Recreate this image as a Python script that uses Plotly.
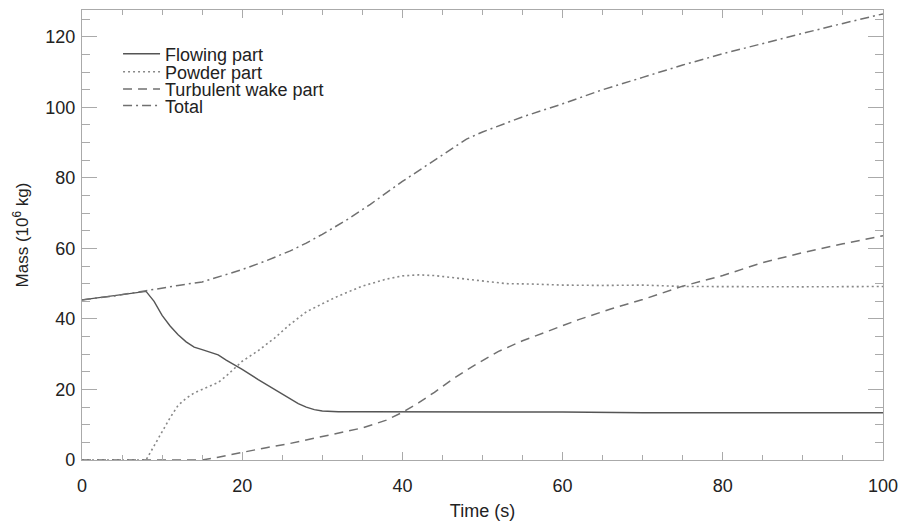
import plotly.graph_objects as go

# ---- data ----
flow_t = [0, 4, 8, 9, 10, 11, 12, 13, 14, 15, 16, 17, 18, 20, 22, 24, 26, 27, 28, 29, 30, 32, 35, 40, 50, 60, 70, 80, 100]
flow_v = [45.4, 46.5, 47.8, 45.0, 41.0, 38.0, 35.5, 33.5, 32.0, 31.3, 30.6, 29.8, 28.3, 25.7, 22.8, 20.0, 17.3, 16.0, 15.0, 14.3, 13.9, 13.7, 13.7, 13.7, 13.7, 13.6, 13.4, 13.4, 13.4]

powder_t = [0, 8, 9, 10, 11, 12, 13, 14, 15, 16, 17, 18, 20, 22, 24, 26, 28, 30, 32, 35, 38, 40, 42, 44, 46, 48, 50, 53, 56, 60, 65, 70, 75, 80, 90, 100]
powder_v = [0, 0, 4, 8, 12, 15.5, 17.5, 19, 20, 20.8, 22, 23.8, 28, 31, 34.5, 38.5, 42, 44.3, 46.5, 49.3, 51.3, 52.2, 52.5, 52.3, 51.8, 51.2, 50.6, 50.0, 49.9, 49.6, 49.5, 49.6, 49.2, 49.1, 49.1, 49.2]

turb_t = [0, 15, 17, 20, 23, 26, 29, 32, 35, 38, 40, 42, 44, 46, 48, 50, 52, 55, 58, 62, 66, 70, 75, 80, 85, 90, 95, 100]
turb_v = [0, 0, 0.8, 2.2, 3.5, 4.7, 6.2, 7.6, 9.1, 11.3, 13.5, 16.2, 19.2, 22.5, 25.5, 28.2, 30.8, 33.8, 36.3, 39.8, 42.8, 45.5, 49.3, 52.3, 56.0, 58.8, 61.3, 63.6]

total_t = [0, 4, 8, 10, 12, 15, 18, 20, 23, 26, 28, 30, 33, 36, 40, 43, 46, 48, 50, 52, 55, 60, 65, 70, 75, 80, 85, 90, 95, 100]
total_v = [45.4, 46.5, 48.0, 48.8, 49.5, 50.5, 52.5, 54.0, 56.5, 59.3, 61.5, 64.0, 68.0, 72.5, 79.0, 83.5, 88.0, 91.0, 93.0, 94.8, 97.3, 101.0, 105.0, 108.5, 112.0, 115.2, 118.2, 121.0, 123.8, 126.5]

names = ["Flowing part", "Powder part", "Turbulent wake part", "Total"]

FONT = "Liberation Sans, Arial, Helvetica, sans-serif"
TXT = "#222222"
AX = "#aaaaaa"

styles = [
    dict(color="#555555", width=1.4, dash="solid"),
    dict(color="#888888", width=1.6, dash="2px,3px"),
    dict(color="#707070", width=1.5, dash="9px,6px"),
    dict(color="#707070", width=1.5, dash="9px,4px,2px,4px"),
]
series = [(flow_t, flow_v), (powder_t, powder_v), (turb_t, turb_v), (total_t, total_v)]
legend_ids = ["legend", "legend2", "legend3", "legend4"]

fig = go.Figure()
for (t, v), nm, st, lg in zip(series, names, styles, legend_ids):
    fig.add_trace(go.Scatter(x=t, y=v, mode="lines", name=nm, line=st, legend=lg))

axis_common = dict(showgrid=False, zeroline=False, showline=True, linecolor=AX,
                   linewidth=1.2, mirror="allticks", ticks="inside", tickcolor=AX,
                   tickwidth=1, automargin=False,
                   tickfont=dict(family=FONT, size=18, color=TXT))

fig.update_xaxes(range=[0, 100], tick0=0, dtick=20, ticklen=8,
                 minor=dict(dtick=5, ticklen=5, ticks="inside", tickcolor=AX),
                 title=dict(text="Time (s)", font=dict(family=FONT, size=18, color=TXT), standoff=9),
                 ticklabelstandoff=9, ticklabeloverflow="allow", **axis_common)
fig.update_yaxes(range=[0, 127.6], tick0=0, dtick=20, ticklen=15,
                 minor=dict(dtick=5, ticklen=8, ticks="inside", tickcolor=AX),
                 title=dict(text="Mass (10<sup>6</sup> kg)", font=dict(family=FONT, size=17, color=TXT), standoff=12),
                 ticklabelstandoff=2, **axis_common)

leg_rows = [0.902, 0.862, 0.824, 0.787]
leg_common = dict(x=0.045, xanchor="left", yanchor="middle", bgcolor="rgba(0,0,0,0)",
                  borderwidth=0, itemwidth=37, font=dict(family=FONT, size=18, color=TXT))
fig.update_layout(
    width=899, height=525,
    margin=dict(l=82, r=16, t=10, b=65),
    paper_bgcolor="white", plot_bgcolor="white",
    showlegend=True,
    legend=dict(y=leg_rows[0], **leg_common),
    legend2=dict(y=leg_rows[1], **leg_common),
    legend3=dict(y=leg_rows[2], **leg_common),
    legend4=dict(y=leg_rows[3], **leg_common),
)

fig.write_html("out.html", config={"displayModeBar": False},
               post_script="document.body.style.margin='0';document.body.style.overflow='hidden';")
